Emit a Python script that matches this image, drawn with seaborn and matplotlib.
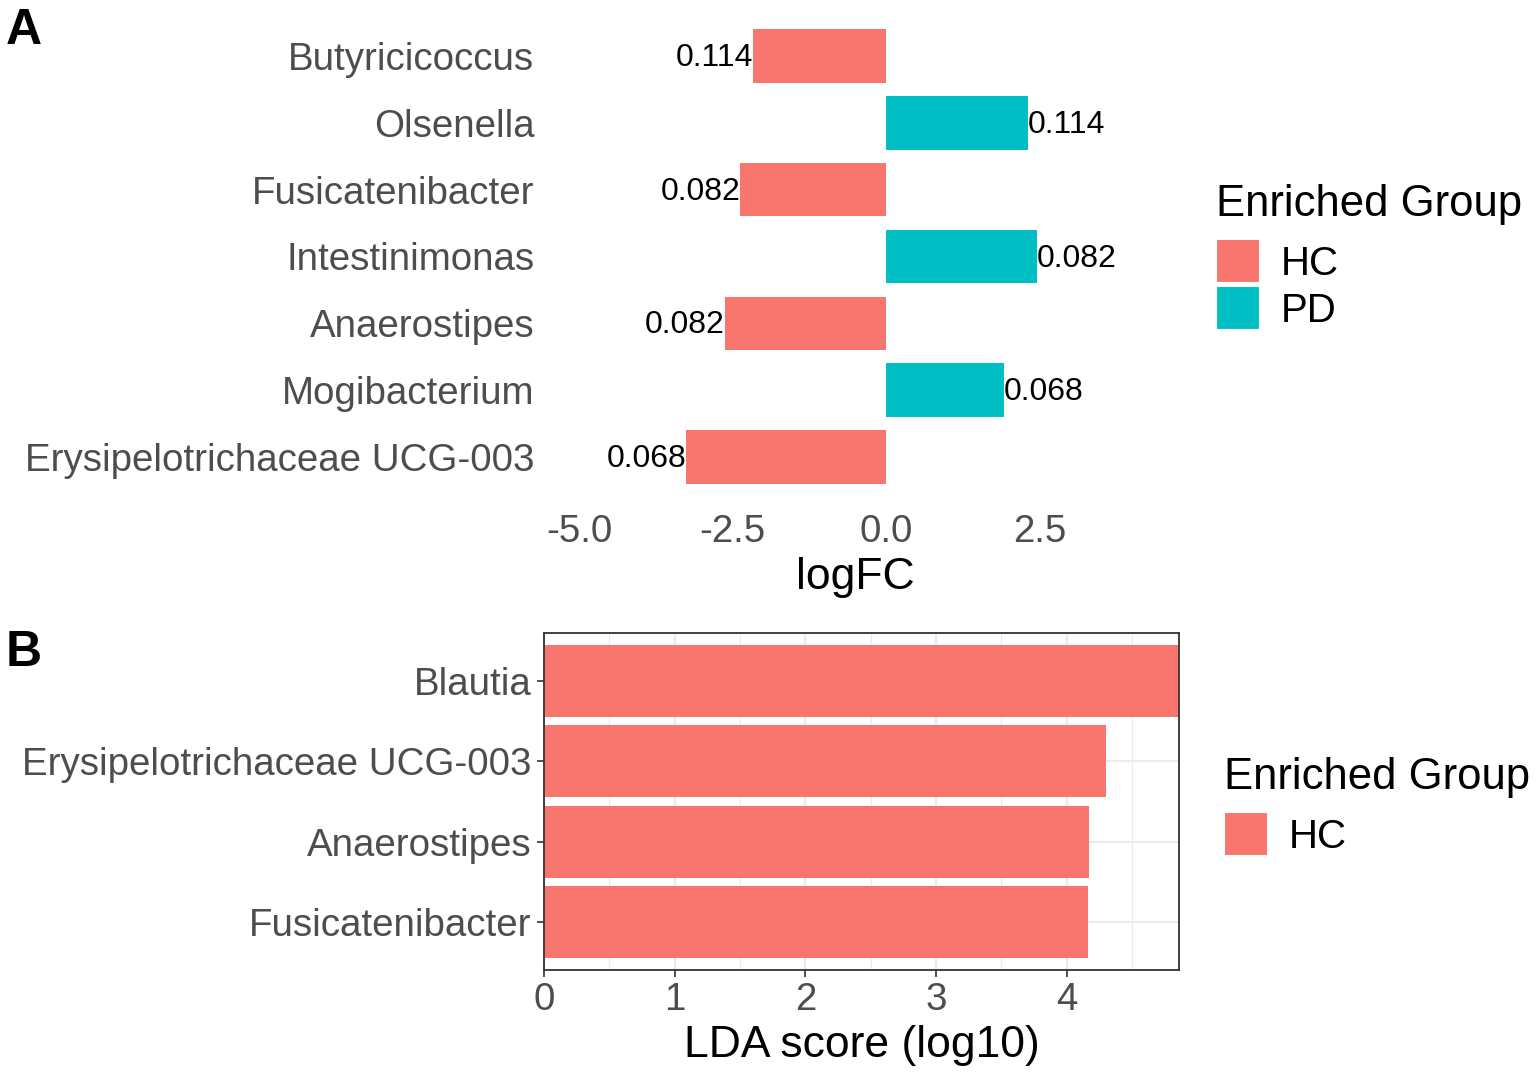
import matplotlib
matplotlib.use("Agg")
import matplotlib.pyplot as plt
import seaborn as sns
import pandas as pd
from matplotlib.patches import Patch

# ---------------- data ----------------
taxa_a = ["Butyricicoccus", "Olsenella", "Fusicatenibacter", "Intestinimonas",
          "Anaerostipes", "Mogibacterium", "Erysipelotrichaceae UCG-003"]
logfc_a = [-2.16, 2.31, -2.37, 2.46, -2.63, 1.92, -3.25]
group_a = ["HC", "PD", "HC", "PD", "HC", "PD", "HC"]
pval_a = ["0.114", "0.114", "0.082", "0.082", "0.082", "0.068", "0.068"]
xticks_a = [-5.0, -2.5, 0.0, 2.5]

taxa_b = ["Blautia", "Erysipelotrichaceae UCG-003", "Anaerostipes", "Fusicatenibacter"]
lda_b = [4.86, 4.30, 4.17, 4.16]
group_b = ["HC", "HC", "HC", "HC"]
xticks_b = [0, 1, 2, 3, 4]

groups = ["HC", "PD"]
palette = {"HC": "#F8766D", "PD": "#00BFC4"}

dfA = pd.DataFrame({"taxon": taxa_a, "logFC": logfc_a, "group": group_a})
dfB = pd.DataFrame({"taxon": taxa_b, "LDA": lda_b, "group": group_b})

# ---------------- style ----------------
sns.set_theme(style="white")
plt.rcParams["font.family"] = ["Liberation Sans", "DejaVu Sans"]

W, H = 1536, 1076
fig = plt.figure(figsize=(W / 100, H / 100), dpi=100)
fig.patch.set_facecolor("white")


def rect(l, t, r, b):
    return [l / W, 1 - b / H, (r - l) / W, (b - t) / H]


TICK_COL = "#4D4D4D"
TICK_FS = 27.7
TITLE_FS = 32
LEG_TITLE_FS = 31.4
LEG_FS = 29


def style_legend(leg):
    leg._legend_box.align = "left"
    leg._legend_box.sep = 0.08 * LEG_FS + 8
    leg.get_title().set_color("black")
    for t in leg.get_texts():
        t.set_color("black")


# ---------------- panel A ----------------
axA = fig.add_axes(rect(551, 16, 1160, 497))
sns.barplot(data=dfA, x="logFC", y="taxon", hue="group", palette=palette,
            hue_order=groups, order=taxa_a, dodge=False, width=0.8,
            saturation=1, linewidth=0, legend=False, ax=axA)
for cont in axA.containers:
    labels = [pval_a[int(round(b.get_y() + b.get_height() / 2))] for b in cont]
    anns = axA.bar_label(cont, labels=labels, padding=0, fontsize=23, color="black")
    for a in anns:
        a.xyann = (a.xyann[0], -1.5)

axA.set_xlim(-5.456, 4.462)
axA.set_ylim(len(taxa_a) - 1 + 0.6, -0.6)
axA.set_xticks(xticks_a)
axA.set_xticklabels([f"{v:.1f}" for v in xticks_a])
for s in axA.spines.values():
    s.set_visible(False)
axA.tick_params(axis="both", length=0, labelsize=TICK_FS, labelcolor=TICK_COL)
axA.tick_params(axis="y", pad=12)
axA.tick_params(axis="x", pad=12)
axA.set_ylabel("")
axA.set_xlabel("logFC", fontsize=TITLE_FS, color="black", labelpad=5)
axA.grid(False)

legA = fig.legend([Patch(facecolor=palette[g], edgecolor="white", linewidth=1.5) for g in groups],
                  groups, title="Enriched Group", loc="upper left",
                  bbox_to_anchor=(1216 / W, 1 - 184 / H), frameon=False,
                  fontsize=LEG_FS, title_fontsize=LEG_TITLE_FS, handlelength=1.1, handleheight=1.3,
                  labelspacing=0.08, handletextpad=0.5, borderpad=0, borderaxespad=0)
style_legend(legA)

# ---------------- panel B ----------------
axB = fig.add_axes(rect(544, 633, 1179, 970))
axB.set_axisbelow(True)
sns.barplot(data=dfB, x="LDA", y="taxon", hue="group", palette=palette,
            hue_order=["HC"], order=taxa_b, dodge=False, width=0.9,
            saturation=1, linewidth=0, legend=False, ax=axB)
axB.set_xlim(0, max(lda_b))
axB.set_ylim(len(taxa_b) - 1 + 0.6, -0.6)
axB.set_xticks(xticks_b)
axB.set_xticklabels([str(v) for v in xticks_b])
axB.set_xticks([v + 0.5 for v in xticks_b], minor=True)
axB.grid(True, which="major", color="#EBEBEB", linewidth=1.6)
axB.grid(True, which="minor", axis="x", color="#EBEBEB", linewidth=0.8)
for s in axB.spines.values():
    s.set_visible(True)
    s.set_color("#333333")
    s.set_linewidth(1.3)
axB.tick_params(axis="both", which="major", length=5, width=1.2, color="#333333",
                labelsize=TICK_FS, labelcolor=TICK_COL, pad=4, left=True, bottom=True)
axB.tick_params(axis="x", which="minor", length=0)
axB.set_ylabel("")
axB.set_xlabel("LDA score (log10)", fontsize=TITLE_FS, color="black", labelpad=5)

legB = fig.legend([Patch(facecolor=palette["HC"], edgecolor="white", linewidth=1.5)],
                  ["HC"], title="Enriched Group", loc="upper left",
                  bbox_to_anchor=(1224 / W, 1 - 757 / H), frameon=False,
                  fontsize=LEG_FS, title_fontsize=LEG_TITLE_FS, handlelength=1.1, handleheight=1.3,
                  labelspacing=0.08, handletextpad=0.5, borderpad=0, borderaxespad=0)
style_legend(legB)

# ---------------- panel letters ----------------
fig.text(6 / W, 1 - 8 / H, "A", fontsize=36, fontweight="bold", va="top", ha="left", color="black")
fig.text(6 / W, 1 - 630 / H, "B", fontsize=36, fontweight="bold", va="top", ha="left", color="black")

fig.savefig("out.png", dpi=100, facecolor="white")
